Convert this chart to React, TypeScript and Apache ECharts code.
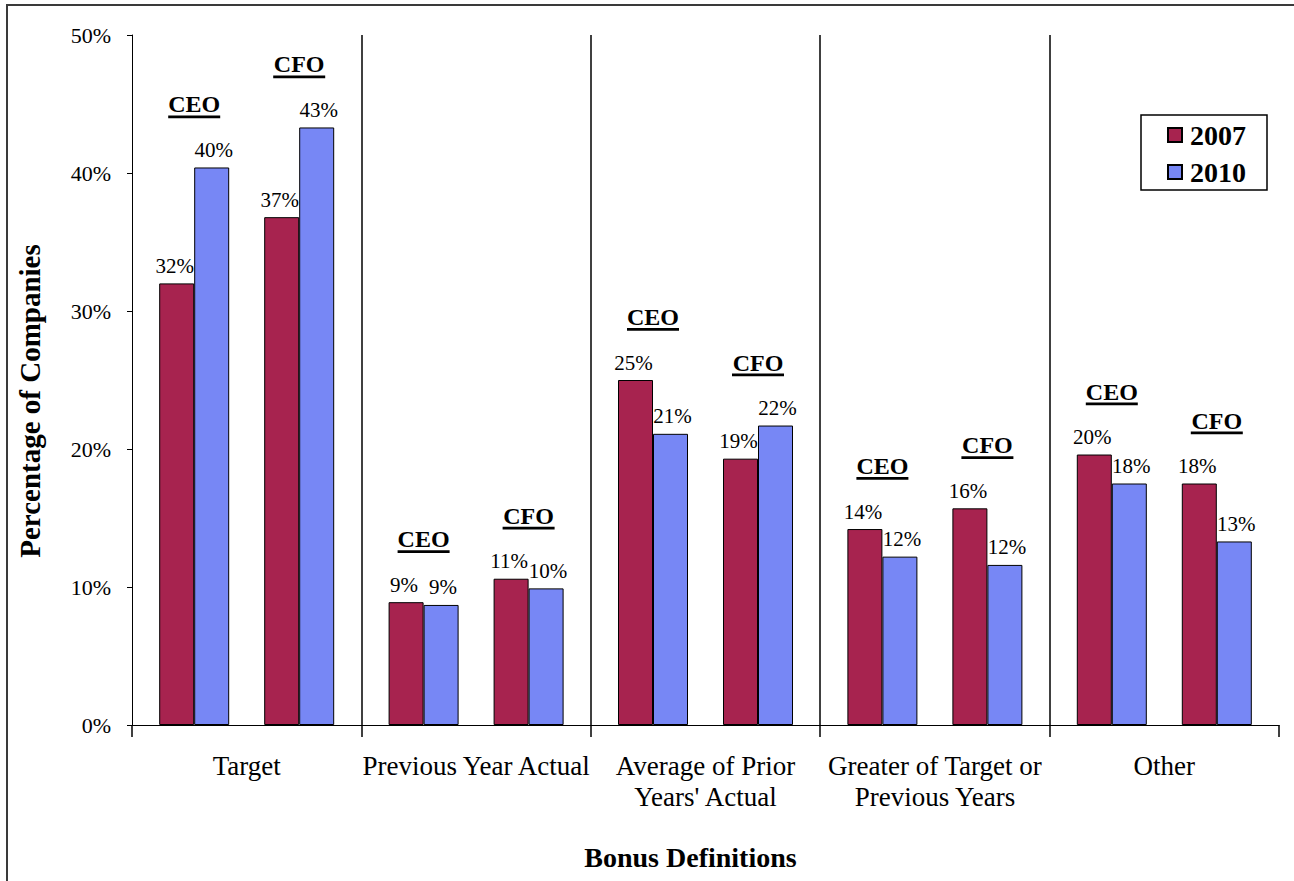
import React, { useEffect, useRef } from 'react';
import * as echarts from 'echarts';

// ---- data ----
const groups = [
  'Target',
  'Previous Year Actual',
  "Average of Prior\nYears' Actual",
  'Greater of Target or\nPrevious Years',
  'Other',
];
const years = ['2007', '2010'];
const roles = ['CEO', 'CFO'];
const ceo2007 = [32.0, 8.9, 25.0, 14.2, 19.6];
const ceo2010 = [40.4, 8.7, 21.1, 12.2, 17.5];
const cfo2007 = [36.8, 10.6, 19.3, 15.7, 17.5];
const cfo2010 = [43.3, 9.9, 21.7, 11.6, 13.3];
const yMin = 0;
const yMax = 50;
const yStep = 10;

// ---- styling ----
const FONT = '"Liberation Serif", "Times New Roman", serif';
const C2007 = '#A7234F';
const C2010 = '#7787F5';
const BAR_W = 35;
const ROLE_GAP = 63;

const roleData: number[][] = [];
groups.forEach((_, i) => {
  roleData.push([i, Math.max(ceo2007[i], ceo2010[i]), 0]);
  roleData.push([i, Math.max(cfo2007[i], cfo2010[i]), 1]);
});

function barLabel(dx: number) {
  return {
    show: true,
    position: 'top',
    distance: 7,
    offset: [dx, 0],
    formatter: (p: any) => Math.round(p.value) + '%',
    fontFamily: FONT,
    fontSize: 21,
    color: '#000',
  };
}

function barSeries(name: string, data: (number | string)[], color: string, dx: number) {
  return {
    type: 'bar',
    name,
    data,
    barWidth: BAR_W,
    barGap: '0%',
    itemStyle: { color, borderColor: '#000', borderWidth: 1 },
    label: barLabel(dx),
    silent: true,
  };
}

export default function App() {
  const ref = useRef<HTMLDivElement>(null);
  useEffect(() => {
    if (!ref.current) return;
    const chart = echarts.init(ref.current, null, { renderer: 'svg' });
    const option: any = {
      animation: false,
      backgroundColor: '#fff',
      textStyle: { fontFamily: FONT },
      grid: {
        left: 132,
        right: 15,
        top: 35,
        bottom: 156,
        containLabel: false,
        outerBoundsMode: 'none',
      },
      legend: {
        data: years,
        orient: 'vertical',
        left: 1141,
        top: 115,
        itemWidth: 14,
        itemHeight: 14,
        itemGap: 9,
        icon: 'rect',
        borderColor: '#000',
        borderWidth: 1.5,
        padding: [6, 21, 4, 26],
        textStyle: {
          fontFamily: FONT,
          fontSize: 28,
          fontWeight: 'bold',
          color: '#000',
          padding: [0, 0, 0, 3],
        },
      },
      xAxis: {
        type: 'category',
        data: groups,
        name: 'Bonus Definitions',
        nameLocation: 'middle',
        nameGap: 118,
        nameTextStyle: {
          fontFamily: FONT,
          fontSize: 28,
          fontWeight: 'bold',
          color: '#000',
          padding: [0, 30, 0, 0],
        },
        axisLine: { show: true, lineStyle: { color: '#000', width: 1 } },
        axisTick: { show: true, length: 12, interval: 0, lineStyle: { color: '#000', width: 1.5 } },
        axisLabel: {
          interval: 0,
          margin: 25,
          fontFamily: FONT,
          fontSize: 27,
          lineHeight: 31,
          color: '#000',
        },
        splitLine: {
          show: true,
          interval: 0,
          showMinLine: false,
          showMaxLine: false,
          lineStyle: { color: '#000', width: 1.5 },
        },
      },
      yAxis: {
        type: 'value',
        min: yMin,
        max: yMax,
        interval: yStep,
        name: 'Percentage of Companies',
        nameLocation: 'middle',
        nameRotate: 90,
        nameGap: 88,
        nameTextStyle: {
          fontFamily: FONT,
          fontSize: 29,
          fontWeight: 'bold',
          color: '#000',
          padding: [0, 42, 0, 0],
        },
        axisLine: { show: true, lineStyle: { color: '#000', width: 1 } },
        axisTick: { show: true, length: 5, inside: false, lineStyle: { color: '#000' } },
        axisLabel: {
          formatter: '{value}%',
          margin: 21,
          fontFamily: FONT,
          fontSize: 22,
          color: '#000',
        },
        splitLine: { show: false },
      },
      series: [
        barSeries(years[0], ceo2007, C2007, -2),
        barSeries(years[1], ceo2010, C2010, 2),
        {
          type: 'bar',
          name: 'spacer',
          data: groups.map(() => '-'),
          barWidth: BAR_W,
          barGap: '0%',
          silent: true,
        },
        barSeries(years[0], cfo2007, C2007, -2),
        barSeries(years[1], cfo2010, C2010, 2),
        {
          type: 'custom',
          name: 'roles',
          data: roleData,
          silent: true,
          clip: false,
          z: 10,
          encode: { x: 0, y: 1 },
          renderItem: (_params: any, api: any) => {
            const gi = api.value(0);
            const v = api.value(1);
            const ri = api.value(2);
            const pt = api.coord([gi, v]);
            const x = pt[0] + (ri === 0 ? -1 : 1) * 1.5 * BAR_W;
            const y = pt[1] - ROLE_GAP;
            return {
              type: 'group',
              children: [
                {
                  type: 'text',
                  x,
                  y,
                  style: {
                    text: roles[ri],
                    fontFamily: FONT,
                    fontSize: 24,
                    fontWeight: 'bold',
                    fill: '#000',
                    align: 'center',
                    verticalAlign: 'middle',
                  },
                },
                {
                  type: 'rect',
                  shape: { x: x - 26, y: y + 11, width: 52, height: 2.7 },
                  style: { fill: '#000' },
                },
              ],
            };
          },
        },
      ],
      graphic: [
        {
          type: 'rect',
          silent: true,
          shape: { x: 7, y: 5, width: 1400, height: 1000 },
          style: { fill: 'none', stroke: '#3a3a3a', lineWidth: 2 },
        },
      ],
    };
    chart.setOption(option);
    return () => chart.dispose();
  }, []);
  return (
    <div
      ref={ref}
      style={{ position: 'fixed', left: 0, top: 0, width: 1294, height: 881 }}
    />
  );
}
